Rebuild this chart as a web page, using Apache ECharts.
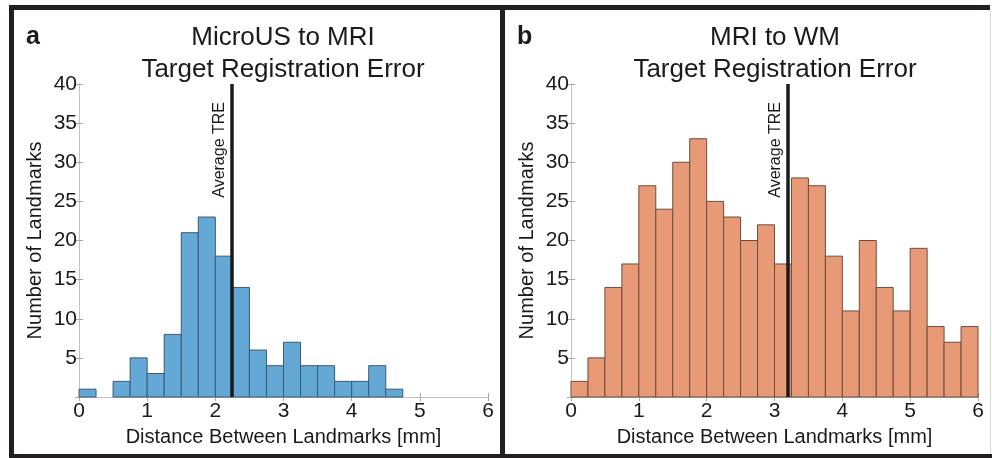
<!DOCTYPE html>
<html>
<head>
<meta charset="utf-8">
<script src="https://cdn.jsdelivr.net/npm/echarts@6/dist/echarts.min.js"></script>
<style>
  html, body { margin: 0; padding: 0; background: #fff; }
  #chart { width: 992px; height: 458px; }
</style>
</head>
<body>
<div id="chart"></div>
<script>
// histogram bin edges [mm], shared by both panels
const binEdges = [0, 0.25, 0.5, 0.75, 1, 1.25, 1.5, 1.75, 2, 2.25, 2.5, 2.75, 3,
    3.25, 3.5, 3.75, 4, 4.25, 4.5, 4.75, 5, 5.25, 5.5, 5.75, 6];

// counts per bin
const microUsCounts = [1, 0, 2, 5, 3, 8, 21, 23, 18, 14, 6, 4, 7, 4, 4, 2, 2, 4, 1, 0, 0, 0, 0, 0];
const mriWmCounts = [2, 5, 14, 17, 27, 24, 30, 33, 25, 23, 20, 22, 17, 28, 27, 18, 11, 20, 14, 11, 19, 9, 7, 9];

// average TRE marks
const microUsMean = 2.24;
const mriWmMean = 3.2;

const yMax = 40;

const FONT = '"Liberation Sans", Arial, sans-serif';
const INK = '#1a1a1a';
const FRAME = '#c2c2c2';

const chart = echarts.init(document.getElementById('chart'));

const toBins = counts => counts.map((c, i) => [binEdges[i], binEdges[i + 1], c]);

const histSeries = (counts, idx, fill, edge) => ({
    type: 'custom',
    xAxisIndex: idx * 2,
    yAxisIndex: idx * 2,
    data: toBins(counts),
    encode: { x: [0, 1], y: 2 },
    renderItem: (params, api) => {
        const h = api.value(2);
        if (!h) return null;
        const p0 = api.coord([api.value(0), 0]);
        const p1 = api.coord([api.value(1), h]);
        return {
            type: 'rect',
            shape: { x: p0[0], y: p1[1], width: p1[0] - p0[0], height: p0[1] - p1[1] },
            style: { fill: fill, stroke: edge, lineWidth: 1 }
        };
    },
    z: 2
});

const meanSeries = (idx, mean) => ({
    type: 'line',
    xAxisIndex: idx * 2,
    yAxisIndex: idx * 2,
    data: [],
    silent: true,
    z: 5,
    markLine: {
        symbol: 'none',
        silent: true,
        animation: false,
        lineStyle: { color: INK, width: 3.5, type: 'solid' },
        label: {
            show: true,
            position: 'insideEndTop',
            formatter: 'Average TRE',
            color: INK,
            fontFamily: FONT,
            fontSize: 16,
            distance: [18, 4]
        },
        data: [{ xAxis: mean }]
    }
});

const xAxisPair = (gridIndex) => [{
    type: 'value', gridIndex, min: 0, max: 6, interval: 1, position: 'bottom',
    name: 'Distance Between Landmarks [mm]', nameLocation: 'middle', nameGap: 30,
    nameTextStyle: { color: INK, fontFamily: FONT, fontSize: 20 },
    axisLine: { lineStyle: { color: FRAME, width: 1 } },
    axisTick: { inside: true, length: 4, lineStyle: { color: '#a8a8a8' } },
    axisLabel: { color: INK, fontFamily: FONT, fontSize: 21, margin: 4 },
    splitLine: { show: false }
}, {
    type: 'value', gridIndex, min: 0, max: 6, interval: 1, position: 'top',
    axisLine: { lineStyle: { color: FRAME, width: 1 } },
    axisTick: { inside: true, length: 4, lineStyle: { color: '#a8a8a8' } },
    axisLabel: { show: false },
    splitLine: { show: false }
}];

const yAxisPair = (gridIndex) => [{
    type: 'value', gridIndex, min: 0, max: yMax, interval: 5, position: 'left',
    name: 'Number of Landmarks', nameLocation: 'middle', nameGap: 34, nameRotate: 90,
    nameTextStyle: { color: INK, fontFamily: FONT, fontSize: 20 },
    axisLine: { show: true, lineStyle: { color: FRAME, width: 1 } },
    axisTick: { show: true, inside: true, length: 4, lineStyle: { color: '#a8a8a8' } },
    axisLabel: { color: INK, fontFamily: FONT, fontSize: 21, margin: 2,
        formatter: v => (v === 0 ? '' : v) },
    splitLine: { show: false }
}, {
    type: 'value', gridIndex, min: 0, max: yMax, interval: 5, position: 'right',
    axisLine: { show: true, lineStyle: { color: FRAME, width: 1 } },
    axisTick: { show: true, inside: true, length: 4, lineStyle: { color: '#a8a8a8' } },
    axisLabel: { show: false },
    splitLine: { show: false }
}];

const titleStyle = { color: INK, fontFamily: FONT, fontSize: 26, fontWeight: 'normal', lineHeight: 32 };
const tagStyle = { color: INK, fontFamily: FONT, fontSize: 25, fontWeight: 'bold' };

const option = {
    backgroundColor: '#fff',
    animation: false,
    title: [
        { text: 'MicroUS to MRI\nTarget Registration Error', left: 283, top: 22, textAlign: 'center', padding: 0, textStyle: titleStyle },
        { text: 'MRI to WM\nTarget Registration Error', left: 775, top: 22, textAlign: 'center', padding: 0, textStyle: titleStyle },
        { text: 'a', left: 26, top: 25, padding: 0, textStyle: tagStyle },
        { text: 'b', left: 517, top: 25, padding: 0, textStyle: tagStyle }
    ],
    grid: [
        { left: 79, right: 504, top: 84, bottom: 61 },
        { left: 571, right: 14, top: 84, bottom: 61 }
    ],
    xAxis: [...xAxisPair(0), ...xAxisPair(1)],
    yAxis: [...yAxisPair(0), ...yAxisPair(1)],
    series: [
        histSeries(microUsCounts, 0, '#64a8d5', '#3b5a72'),
        histSeries(mriWmCounts, 1, '#e89a76', '#6d4c40'),
        meanSeries(0, microUsMean),
        meanSeries(1, mriWmMean)
    ],
    graphic: [
        // panel frames
        { type: 'rect', shape: { x: 9, y: 5, width: 981, height: 5 }, style: { fill: '#231f20' } },
        { type: 'rect', shape: { x: 9, y: 5, width: 5, height: 453 }, style: { fill: '#231f20' } },
        { type: 'rect', shape: { x: 9, y: 454, width: 983, height: 4 }, style: { fill: '#231f20' } },
        { type: 'rect', shape: { x: 500, y: 5, width: 5, height: 453 }, style: { fill: '#231f20' } },
        { type: 'rect', shape: { x: 990, y: 10, width: 1, height: 444 }, style: { fill: '#d8d8d8' } }
    ]
};

chart.setOption(option);
</script>
</body>
</html>
